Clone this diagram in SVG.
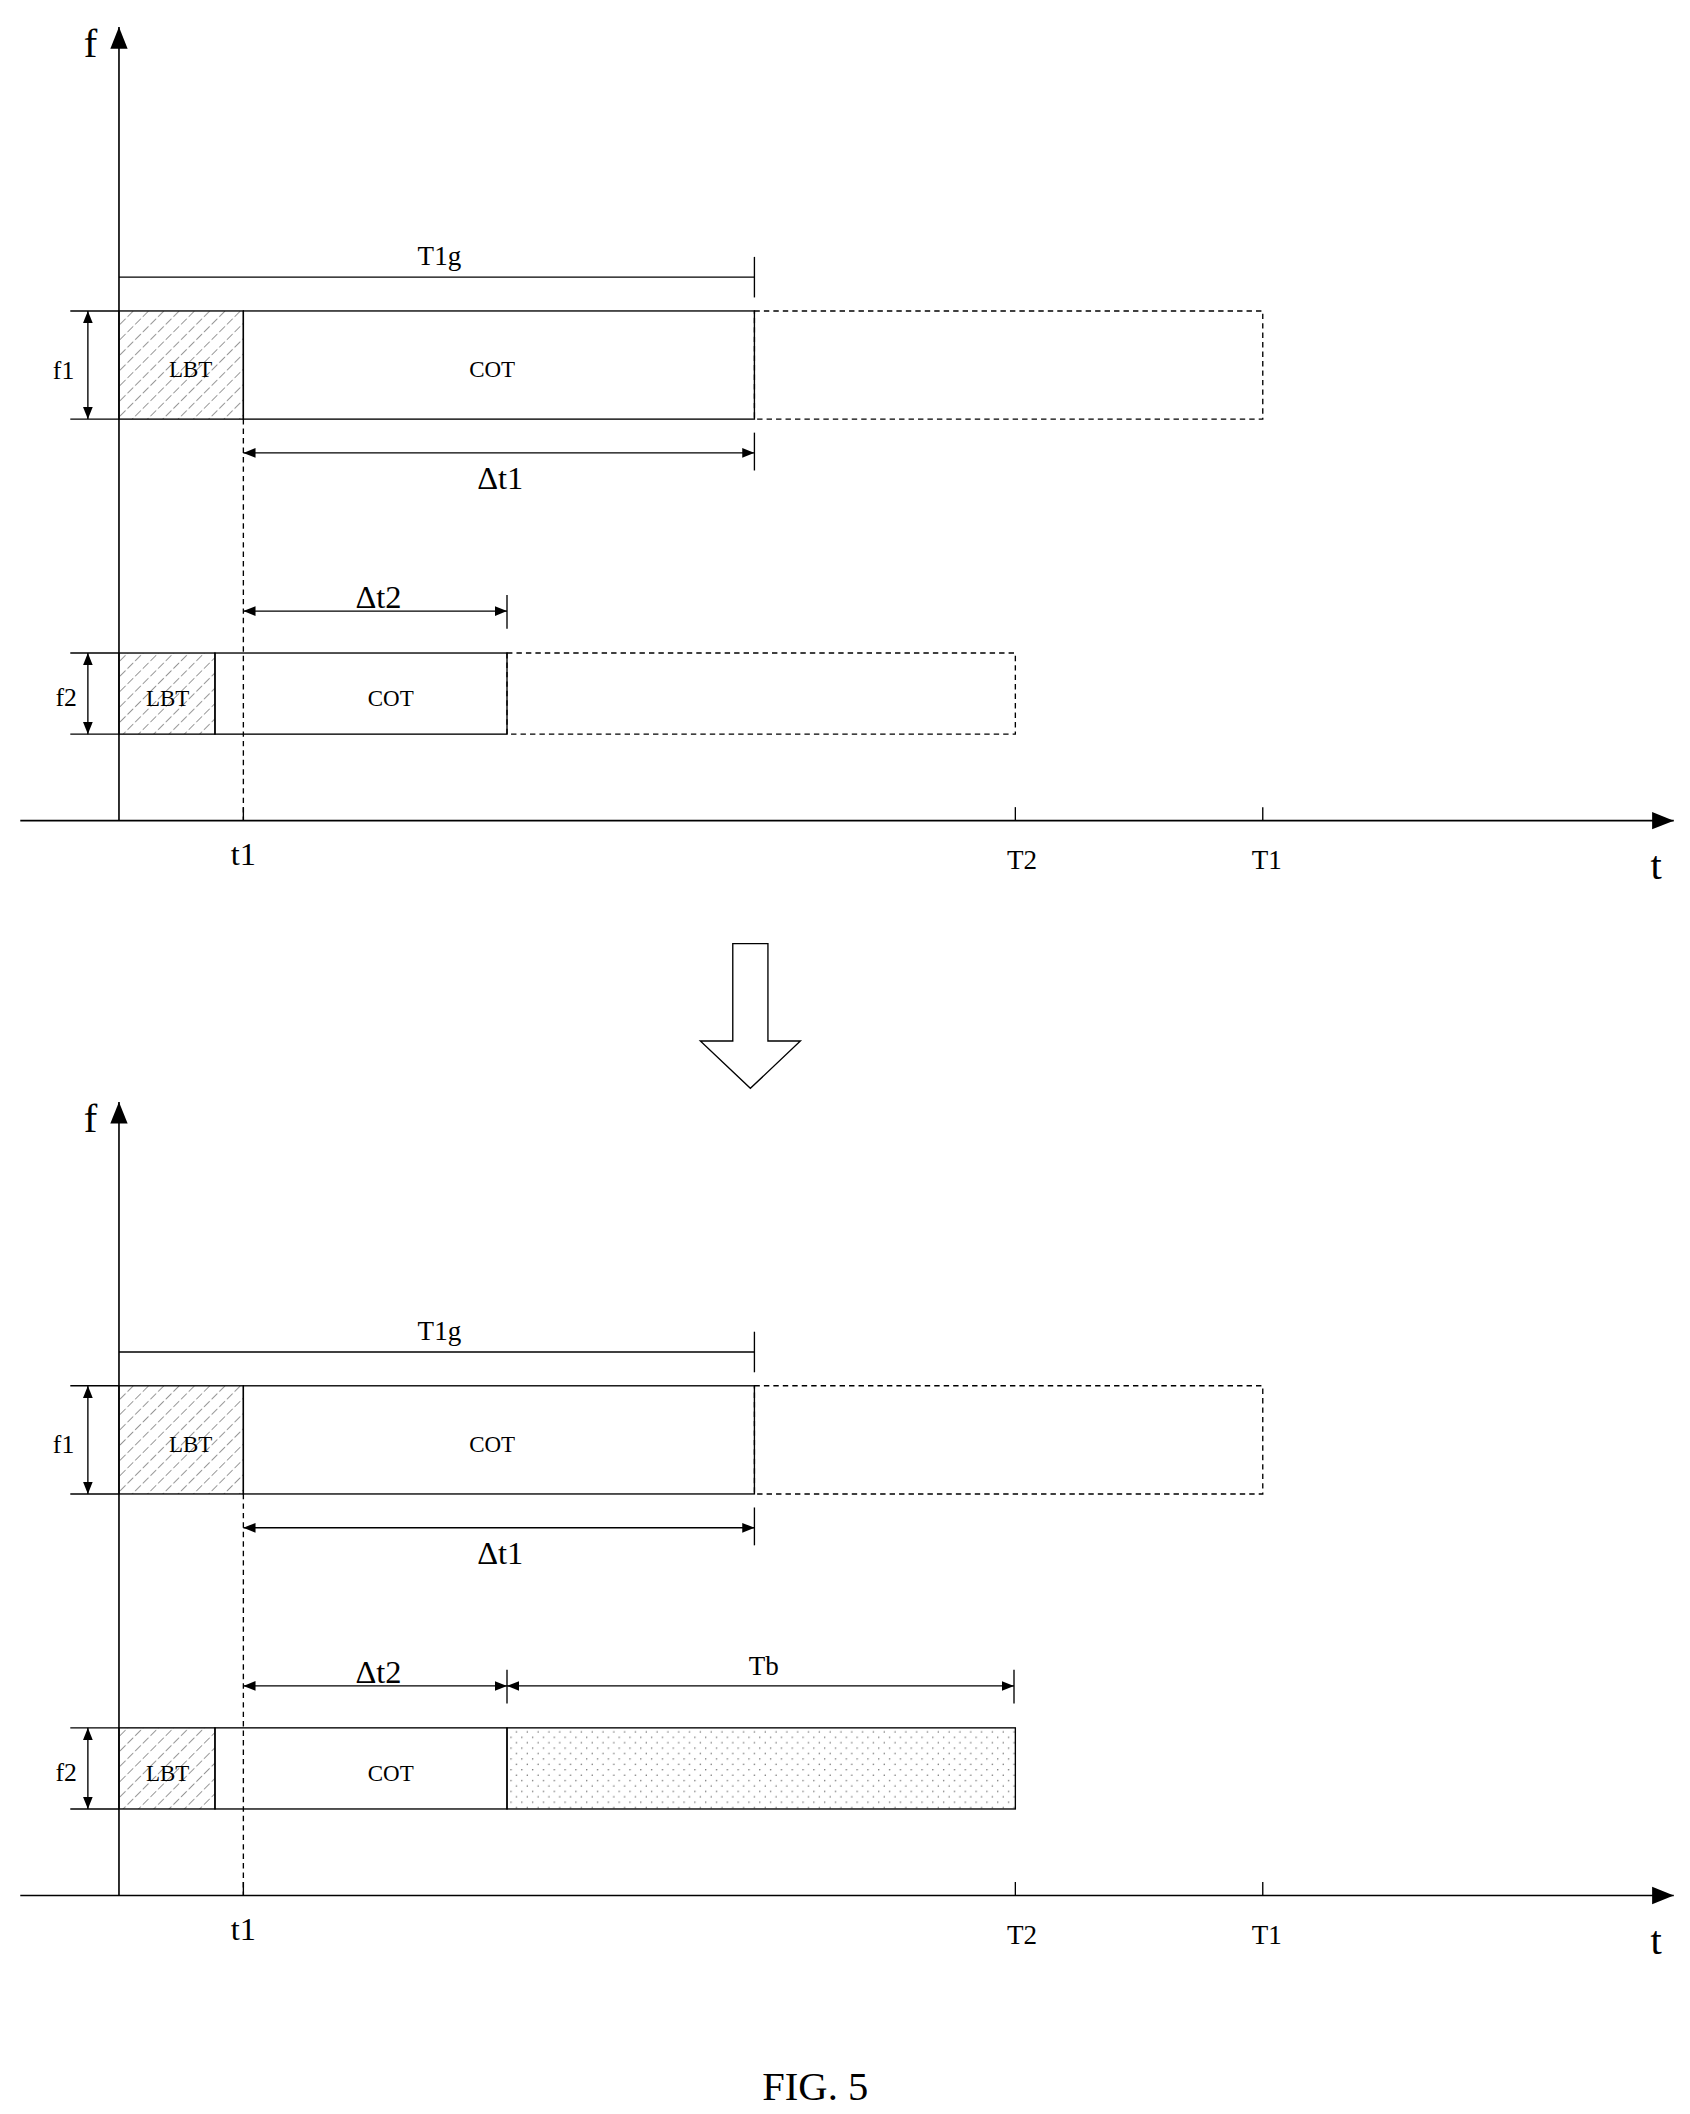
<svg xmlns="http://www.w3.org/2000/svg" width="1690" height="2114" viewBox="0 0 1690 2114">
<defs>
<marker id="ah" viewBox="0 0 10 10" refX="10" refY="5" markerWidth="9" markerHeight="9" markerUnits="userSpaceOnUse" orient="auto-start-reverse"><path d="M0,1 L10,5 L0,9 Z" fill="#000"/></marker>
<marker id="big" viewBox="0 0 10 10" refX="10" refY="5" markerWidth="22" markerHeight="16" markerUnits="userSpaceOnUse" orient="auto"><path d="M0,1 L10,5 L0,9 Z" fill="#000"/></marker>
<pattern id="hatch" width="8" height="8" patternUnits="userSpaceOnUse" patternTransform="rotate(45)"><line x1="0" y1="0" x2="0" y2="8" stroke="#000" stroke-width="0.6" stroke-dasharray="3,2"/></pattern>
<pattern id="dots" width="8" height="8" patternUnits="userSpaceOnUse"><circle cx="2" cy="2" r="0.5" fill="#555"/><circle cx="6" cy="6" r="0.5" fill="#555"/></pattern>
<g id="panel">
<g class="axes">
<line x1="88" y1="607" x2="88" y2="20" stroke="#000" stroke-width="1.2" marker-end="url(#big)"/>
<line x1="15" y1="607" x2="1238" y2="607" stroke="#000" stroke-width="1.2" marker-end="url(#big)"/>
<text x="67" y="42" font-size="30" text-anchor="middle" class="t">f</text>
<text x="1225" y="650" font-size="30" text-anchor="middle" class="t">t</text>
<line x1="180" y1="597" x2="180" y2="607" stroke="#000"/>
<line x1="751" y1="597" x2="751" y2="607" stroke="#000"/>
<line x1="934" y1="597" x2="934" y2="607" stroke="#000"/>
<text x="180" y="640" font-size="24" text-anchor="middle" class="t">t1</text>
<text x="756" y="643" font-size="20" text-anchor="middle" class="t">T2</text>
<text x="937" y="643" font-size="20" text-anchor="middle" class="t">T1</text>
</g>
<g class="f1row">
<rect x="558" y="230" width="376" height="80" fill="none" stroke="#000" stroke-dasharray="4,3"/>
<rect x="88" y="230" width="92" height="80" fill="url(#hatch)" stroke="#000"/>
<rect x="180" y="230" width="378" height="80" fill="none" stroke="#000"/>
<text x="141" y="279" font-size="17" text-anchor="middle" class="t">LBT</text>
<text x="364" y="279" font-size="17" text-anchor="middle" class="t">COT</text>
<line x1="52" y1="230" x2="88" y2="230" stroke="#000"/>
<line x1="52" y1="310" x2="88" y2="310" stroke="#000"/>
<line x1="65" y1="230" x2="65" y2="310" stroke="#000" marker-start="url(#ah)" marker-end="url(#ah)"/>
<text x="47" y="280" font-size="19" text-anchor="middle" class="t">f1</text>
<line x1="88" y1="205" x2="558" y2="205" stroke="#000"/>
<line x1="558" y1="190" x2="558" y2="220" stroke="#000"/>
<text x="325" y="196" font-size="20" text-anchor="middle" class="t">T1g</text>
<line x1="180" y1="335" x2="558" y2="335" stroke="#000" marker-start="url(#ah)" marker-end="url(#ah)"/>
<line x1="558" y1="320" x2="558" y2="348" stroke="#000"/>
<text x="370" y="362" font-size="24" text-anchor="middle" class="t">Δt1</text>
</g>
<line x1="180" y1="310" x2="180" y2="607" stroke="#000" stroke-dasharray="4,3"/>
<g class="f2row">
<rect x="88" y="483" width="71" height="60" fill="url(#hatch)" stroke="#000"/>
<rect x="159" y="483" width="216" height="60" fill="none" stroke="#000"/>
<text x="124" y="522" font-size="17" text-anchor="middle" class="t">LBT</text>
<text x="289" y="522" font-size="17" text-anchor="middle" class="t">COT</text>
<line x1="52" y1="483" x2="88" y2="483" stroke="#000"/>
<line x1="52" y1="543" x2="88" y2="543" stroke="#000"/>
<line x1="65" y1="483" x2="65" y2="543" stroke="#000" marker-start="url(#ah)" marker-end="url(#ah)"/>
<text x="49" y="522" font-size="19" text-anchor="middle" class="t">f2</text>
<line x1="180" y1="452" x2="375" y2="452" stroke="#000" marker-start="url(#ah)" marker-end="url(#ah)"/>
<line x1="375" y1="440" x2="375" y2="465" stroke="#000"/>
<text x="280" y="450" font-size="24" text-anchor="middle" class="t">Δt2</text>
</g>
</g>
</defs>
<style>.t{font-family:"Liberation Serif","DejaVu Serif",serif;fill:#000}</style>
<rect width="1690" height="2114" fill="#fff"/>
<g transform="scale(1.352)">
<g id="top">
<use href="#panel"/>
<rect x="375" y="483" width="376" height="60" fill="none" stroke="#000" stroke-dasharray="4,3"/>
</g>
<g id="transition">
<path d="M542,698 L568,698 L568,770 L592,770 L555,805 L518,770 L542,770 Z" fill="#fff" stroke="#000"/>
</g>
<g id="bottom" transform="translate(0,795)">
<use href="#panel"/>
<rect x="375" y="483" width="376" height="60" fill="url(#dots)" stroke="#000"/>
<line x1="375" y1="452" x2="750" y2="452" stroke="#000" marker-start="url(#ah)" marker-end="url(#ah)"/>
<line x1="750" y1="440" x2="750" y2="465" stroke="#000"/>
<text x="565" y="444" font-size="20" text-anchor="middle" class="t">Tb</text>
</g>
<text x="603" y="1553" font-size="30" text-anchor="middle" class="t">FIG. 5</text>
</g>
</svg>
